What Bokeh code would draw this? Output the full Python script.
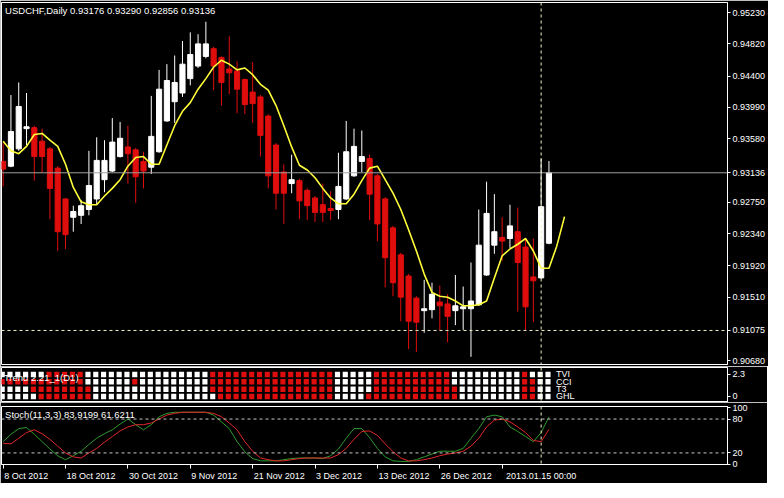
from bokeh.plotting import figure
from bokeh.layouts import column
from bokeh.models import ColumnDataSource, FixedTicker, NumeralTickFormatter, Span, Label, Range1d
from bokeh.embed import file_html
from bokeh.resources import INLINE

# ---------------- data ----------------
opens = [0.93285,0.93222,0.93449,0.93713,0.93726,0.93549,0.93449,0.93197,0.92794,0.92555,
         0.92580,0.92656,0.92794,0.93046,0.93159,0.93348,0.93474,0.93436,0.93285,0.93209,
         0.93411,0.93814,0.94065,0.94179,0.94367,0.94531,0.94657,0.94758,0.94644,0.94493,
         0.94468,0.94355,0.94191,0.94128,0.93877,0.93499,0.93146,0.92995,0.93033,0.92907,
         0.92807,0.92719,0.92668,0.92656,0.92794,0.93096,0.93285,0.93323,0.93096,0.92794,
         0.92416,0.92064,0.91787,0.91498,0.91334,0.91347,0.91447,0.91422,0.91334,0.91359,
         0.91359,0.91410,0.91800,0.92190,0.92291,0.92277,0.92366,0.92165,0.91775,0.91762,
         0.92215]
highs = [0.93524,0.94153,0.94317,0.94179,0.93751,0.93713,0.93474,0.93222,0.92807,0.92706,
         0.92781,0.93423,0.93600,0.93562,0.93851,0.93801,0.93751,0.93461,0.93411,0.94141,
         0.94481,0.94556,0.94669,0.94858,0.94972,0.94947,0.95110,0.94783,0.94657,0.94921,
         0.94594,0.94367,0.94581,0.94153,0.93902,0.93524,0.93247,0.93373,0.93058,0.92932,
         0.92832,0.92995,0.92895,0.93398,0.93814,0.93713,0.93688,0.93373,0.93121,0.92819,
         0.92442,0.92089,0.91812,0.91523,0.91737,0.91699,0.91661,0.91548,0.91800,0.91649,
         0.91963,0.92656,0.93020,0.92857,0.92555,0.92719,0.92681,0.92277,0.92277,0.93323,
         0.93290]
lows = [0.92958,0.93209,0.93423,0.93499,0.93033,0.93134,0.92530,0.92114,0.92140,0.92366,
        0.92467,0.92580,0.92719,0.92882,0.93146,0.93335,0.92995,0.92744,0.92932,0.93121,
        0.93398,0.93801,0.93788,0.94128,0.94279,0.94506,0.94632,0.94216,0.94015,0.94166,
        0.93914,0.93902,0.93788,0.93348,0.92932,0.92656,0.92467,0.92869,0.92530,0.92517,
        0.92492,0.92492,0.92517,0.92530,0.92781,0.93084,0.93146,0.92517,0.92240,0.91636,
        0.91523,0.91196,0.90831,0.90794,0.91045,0.91233,0.91082,0.90919,0.91145,0.91082,
        0.90730,0.91397,0.91787,0.92077,0.91986,0.92151,0.91321,0.91082,0.91183,0.91749,
        0.92202]
closes = [0.93184,0.93675,0.94002,0.93738,0.93348,0.93348,0.92932,0.92366,0.92328,0.92630,
          0.92706,0.92970,0.93298,0.93298,0.93537,0.93587,0.93386,0.93084,0.93159,0.93612,
          0.94229,0.94342,0.94317,0.94556,0.94682,0.94821,0.94821,0.94531,0.94317,0.94443,
          0.94229,0.94028,0.94040,0.93625,0.93096,0.92869,0.92869,0.93046,0.92769,0.92706,
          0.92618,0.92618,0.92643,0.92958,0.93411,0.93481,0.93348,0.92857,0.92467,0.92026,
          0.91699,0.91510,0.91196,0.91183,0.91359,0.91548,0.91397,0.91259,0.91397,0.91384,
          0.91460,0.92190,0.92605,0.92366,0.92243,0.92442,0.91963,0.91384,0.91724,0.92693,
          0.93136]
ma_line = [0.93549,0.93423,0.93386,0.93481,0.93637,0.93650,0.93562,0.93481,0.93247,0.92945,
           0.92756,0.92719,0.92719,0.92832,0.92932,0.93046,0.93222,0.93335,0.93348,0.93247,
           0.93247,0.93499,0.93751,0.93940,0.94053,0.94229,0.94367,0.94519,0.94607,0.94556,
           0.94481,0.94506,0.94418,0.94292,0.94216,0.94015,0.93751,0.93474,0.93235,0.93172,
           0.93071,0.92932,0.92807,0.92731,0.92731,0.92857,0.93033,0.93197,0.93222,0.93046,
           0.92869,0.92656,0.92391,0.92114,0.91812,0.91573,0.91523,0.91510,0.91460,0.91397,
           0.91397,0.91410,0.91460,0.91762,0.92051,0.92140,0.92202,0.92277,0.92114,0.91888,
           0.91888,0.92177,0.92563]
stoch_main = [40,53,63,65,53,40,27,15,8,15,
              23,35,46,54,61,71,80,70,61,70,
              84,90,92,92,92,92,92,87,75,63,
              40,22,10,6,6,6,8,10,11,11,
              11,10,15,27,46,63,63,47,28,13,
              6,5,5,8,13,18,23,23,23,28,
              46,63,84,87,84,66,58,49,40,56,
              83.9199]
stoch_signal = [37,36,46,56,61,54,44,32,20,13,
                11,20,28,39,49,59,66,70,70,73,
                80,87,90,92,92,92,92,90,84,73,
                61,40,23,11,8,6,6,8,10,11,
                11,11,11,17,28,44,58,59,51,36,
                22,11,6,6,8,11,15,18,20,23,
                32,46,66,78,80,75,66,56,42,40,
                61.6211]
# signal grid rows (R = red, W = white), one char per bar
row_tvi = "WWWWWWRRRRRWWWWWWWWWWWWWWWWRRRRRRRRRRRRRRRRWWWWWRRRRRRRRRRWWWWWWWWWRWWW"
row_cci = "RRRRRRRRRRRWWWWWWRWWWWWWWWWRRRRRRRRRRRRRRRRWWWWWRRRRRRRRRRWWWWWWWWWRRWW"
row_t3 = "WWWWRRRRRRRRWWWWWWWWWWWWWWWRRRRRRRRRRRRRRRRWWWWWRRRRRRRRRRRWWWWWWWWRRWW"
row_ghl = "WWWWWRRRRRRRWWWWWWWWWWWWWWWWRRRRRRRRRRRRRRRWWWWRRRRRRRRRRRRWWWWWWWWRRWW"
row_names = ["TVI", "CCI", "T3", "GHL"]
date_ticks = [0, 8, 16, 24, 32, 40, 48, 56, 64]
date_labels = ["8 Oct 2012", "18 Oct 2012", "30 Oct 2012", "9 Nov 2012", "21 Nov 2012",
               "3 Dec 2012", "13 Dec 2012", "26 Dec 2012", ""]
price_ticks = [0.95230, 0.94820, 0.94400, 0.93990, 0.93580, 0.92750, 0.92340, 0.91920, 0.91510, 0.90680]
current_price = 0.93136
cross_price = 0.91075
cross_bar = 69
cross_date = "2013.01.15 00:00"
header = "USDCHF,Daily   0.93176 0.93290 0.92856 0.93136"
stoch_title = "Stoch(11,3,3) 83.9199 61.6211"
grid_title = "Trend 2.21_1(D1)"

# ---------------- style ----------------
FONT = "Liberation Sans"
FS = "9px"
FS_T = "9.5px"
RED = "#e00d0d"
FW = 726
X0, X1 = -0.21, 92.9
XR = Range1d(X0, X1)
PPB = FW / (X1 - X0)          # pixels per bar

# Arial-metric character widths (per 1000 em) used to left-align date labels
CW = {" ": 278, "O": 778, "c": 500, "t": 278, "N": 722, "o": 556, "v": 500, "D": 722,
      "e": 556, "J": 500, "a": 556, "n": 556, ".": 278, ":": 278}

def text_w(s, size=9):
    return sum(CW.get(ch, 556) for ch in s) * size / 1000.0

def style(p):
    p.background_fill_color = "black"
    p.border_fill_color = "black"
    p.outline_line_color = "white"
    p.outline_line_width = 1
    p.grid.visible = False
    for ax in p.yaxis:
        ax.axis_line_color = "white"
        ax.major_tick_line_color = "white"
        ax.minor_tick_line_color = None
        ax.major_tick_out = 3
        ax.major_tick_in = 0
        ax.major_label_standoff = 2
        ax.major_label_text_color = "white"
        ax.major_label_text_font = FONT
        ax.major_label_text_font_size = FS

def crosshair_v(p):
    p.add_layout(Span(location=cross_bar, dimension="height", line_color="#f2f2c8",
                      line_dash="3 3", line_width=1))

# ---------------- main price panel ----------------
main = figure(frame_width=FW, frame_height=362, x_range=XR, y_range=Range1d(0.90630, 0.95362),
              output_backend="svg", toolbar_location=None, x_axis_location=None,
              y_axis_location="right", min_border_left=1, min_border_top=2,
              min_border_bottom=2, min_border_right=40)
style(main)
main.yaxis.ticker = FixedTicker(ticks=price_ticks + [current_price, cross_price])
main.yaxis.formatter = NumeralTickFormatter(format="0.00000")

n = len(opens)
idx = list(range(n))
src = ColumnDataSource(dict(
    x=idx, h=highs, l=lows,
    top=[max(o, c) for o, c in zip(opens, closes)],
    bot=[min(o, c) for o, c in zip(opens, closes)],
    col=["white" if c > o else RED for o, c in zip(opens, closes)],
))
main.add_layout(Span(location=current_price, dimension="width", line_color="#a0a0a0", line_width=1))
main.segment(x0="x", y0="h", x1="x", y1="l", line_color="col", line_width=1, source=src)
main.vbar(x="x", width=0.66, top="top", bottom="bot", fill_color="col", line_color="col",
          line_width=1, source=src)
main.line(x=list(range(len(ma_line))), y=ma_line, line_color="#ffff3a", line_width=1.6)
main.add_layout(Span(location=cross_price, dimension="width", line_color="#f2f2c8",
                     line_dash="3 3", line_width=1))
crosshair_v(main)
main.add_layout(Label(x=0.25, y=0.95335, text=header, text_color="white", text_font=FONT,
                      text_font_size=FS_T, text_baseline="top"))

# ---------------- signal grid panel ----------------
sub1 = figure(frame_width=FW, frame_height=35, x_range=XR, y_range=Range1d(-0.63, 3.03),
              output_backend="svg", toolbar_location=None, x_axis_location=None,
              y_axis_location="right", min_border_left=1, min_border_top=1,
              min_border_bottom=0, min_border_right=40)
style(sub1)
sub1.yaxis.ticker = FixedTicker(ticks=[0, 2.3])
row_levels = [2.3, 1.533, 0.767, 0.0]
gx, gy, gc = [], [], []
for rows, lev in zip([row_tvi, row_cci, row_t3, row_ghl], row_levels):
    for i, ch in enumerate(rows):
        gx.append(i - 0.12)
        gy.append(lev)
        gc.append(RED if ch == "R" else "white")
sub1.rect(x=gx, y=gy, width=0.66, height=5.5, height_units="screen", fill_color=gc,
          line_color=None)
for name, lev in zip(row_names, row_levels):
    sub1.add_layout(Label(x=70.9, y=lev, text=name, text_color="white", text_font=FONT,
                          text_font_size="9px", text_baseline="middle"))
sub1.add_layout(Label(x=0.1, y=2.0, text=grid_title, text_color="white", text_font=FONT,
                      text_font_size=FS_T, text_baseline="middle"))
crosshair_v(sub1)

# ---------------- stochastic panel ----------------
sub2 = figure(frame_width=FW, frame_height=58, x_range=XR, y_range=Range1d(-0.5, 102.2),
              output_backend="svg", toolbar_location=None, x_axis_location="below",
              y_axis_location="right", min_border_left=1, min_border_top=4,
              min_border_bottom=0, min_border_right=40)
style(sub2)
sub2.yaxis.ticker = FixedTicker(ticks=[0, 20, 80, 100])
for lev in [20, 80]:
    sub2.add_layout(Span(location=lev, dimension="width", line_color="#c8c8c8",
                         line_dash="3 3", line_width=1))
sub2.line(x=idx, y=stoch_main, line_color="#2f9a2f", line_width=1)
sub2.line(x=idx, y=stoch_signal, line_color="#e02828", line_width=1)
crosshair_v(sub2)
sub2.add_layout(Label(x=0.25, y=98, text=stoch_title, text_color="white", text_font=FONT,
                      text_font_size=FS_T, text_baseline="top"))

# date axis: labels start at their tick (minor ticks mark the dates), plus crosshair date
label_pos, overrides = [], {}
for t, s in zip(date_ticks, date_labels):
    if s:
        pos = round(t + (text_w(s) / 2 + 1) / PPB, 4)
        label_pos.append(pos)
        overrides[pos] = s
label_pos.append(cross_bar)
overrides[cross_bar] = cross_date
xa = sub2.xaxis[0]
xa.ticker = FixedTicker(ticks=label_pos, minor_ticks=date_ticks)
xa.major_label_overrides = overrides
xa.major_label_text_color = "white"
xa.major_label_text_font = FONT
xa.major_label_text_font_size = FS
xa.major_label_standoff = 2
xa.axis_line_color = "white"
xa.major_tick_line_color = None
xa.major_tick_out = 4
xa.major_tick_in = 0
xa.minor_tick_line_color = "white"
xa.minor_tick_out = 4
xa.minor_tick_in = 0

layout = column(main, sub1, sub2, spacing=0)
open("out.html", "w").write(file_html(layout, INLINE))
